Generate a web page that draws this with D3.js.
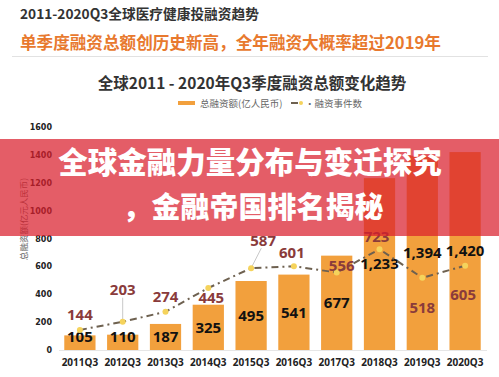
<!DOCTYPE html>
<html><head><meta charset="utf-8">
<script src="https://cdn.jsdelivr.net/npm/d3@7"></script>
<style>
html,body{margin:0;padding:0;background:#fff;}
svg{display:block;}
</style></head>
<body>
<script>
// ---- data ----
const categories = ["2011Q3","2012Q3","2013Q3","2014Q3","2015Q3","2016Q3","2017Q3","2018Q3","2019Q3","2020Q3"];
const amounts = [105,110,187,325,495,541,677,1233,1394,1420];      // 总融资额(亿人民币)
const events  = [144,203,274,445,587,601,556,723,518,605];         // 融资事件数
const yTicks  = [0,200,400,600,800,1000,1200,1400,1600];
const amountLabels = ["105","110","187","325","495","541","677","1,233","1,394","1,420"];
// layout of event labels (offsets from their point)
const evLabelOffset = [[0,-15],[0,-32],[0,-15],[3,10],[12,-28],[-2,-14],[5,-7],[-3,-13],[0,30],[-2,29]];

const W=499,H=377;
const svg=d3.select("body").append("svg").attr("width",W).attr("height",H);
const CJK='"Noto Sans CJK SC","Noto Sans",sans-serif';
const NUM='"Liberation Sans Narrow","Noto Sans",sans-serif';

// header
svg.append("text").attr("x",20).attr("y",19).text("2011-2020Q3全球医疗健康投融资趋势")
  .attr("font-family",CJK).attr("font-weight",700).attr("font-size",13.7).attr("fill","#333");
svg.append("text").attr("x",20).attr("y",49).text("单季度融资总额创历史新高，全年融资大概率超过2019年")
  .attr("font-family",CJK).attr("font-weight",700).attr("font-size",16.6).attr("fill","#e8792e");
svg.append("line").attr("x1",12).attr("x2",488).attr("y1",56.5).attr("y2",56.5).attr("stroke","#e2e2e2");

svg.append("text").attr("x",252).attr("y",89).attr("text-anchor","middle")
  .text("全球2011 - 2020年Q3季度融资总额变化趋势")
  .attr("font-family",CJK).attr("font-weight",700).attr("font-size",15.5).attr("fill","#333");

// legend
svg.append("rect").attr("x",178).attr("y",101).attr("width",17).attr("height",4).attr("fill","#f2a03d");
svg.append("text").attr("x",200).attr("y",106.5).text("总融资额(亿人民币)")
  .attr("font-family",CJK).attr("font-size",9.5).attr("fill","#666");
svg.append("line").attr("x1",291).attr("x2",298).attr("y1",103).attr("y2",103).attr("stroke","#6e6150").attr("stroke-width",2);
svg.append("circle").attr("cx",301).attr("cy",103).attr("r",2).attr("fill","#f5d35c");
svg.append("text").attr("x",305).attr("y",106.5).text("·融资事件数")
  .attr("font-family",CJK).attr("font-size",9.5).attr("fill","#666");

// scales
const x=d3.scaleBand().domain(categories).range([58.5,486.5]).paddingInner(0.27).paddingOuter(0.135);
const y=d3.scaleLinear().domain([0,1600]).range([350,127]);

// y axis
const ya=svg.append("g").attr("transform","translate(54,0)")
  .call(d3.axisLeft(y).tickValues(yTicks).tickSize(0).tickPadding(2).tickFormat(d3.format("d")));
ya.select(".domain").remove();
ya.selectAll("text").attr("font-family",'"DejaVu Sans",sans-serif').attr("font-weight",700).attr("font-size",8).attr("fill","#222");

svg.append("text").attr("transform","translate(27,219) rotate(-90)").attr("text-anchor","middle")
  .text("总融资额(亿元人民币)").attr("font-family",CJK).attr("font-size",8.5).attr("fill","#666");

// bars
svg.selectAll("rect.bar").data(amounts).enter().append("rect").attr("class","bar")
  .attr("x",(d,i)=>x(categories[i])).attr("width",x.bandwidth())
  .attr("y",d=>y(d)).attr("height",d=>y(0)-y(d)).attr("fill","#f2a03d");

// x axis
const xa=svg.append("g").attr("transform","translate(0,350)").call(d3.axisBottom(x).tickSize(0).tickPadding(9));
xa.select(".domain").attr("stroke","#e6e6e6");
xa.selectAll("text").attr("font-family",'"Noto Sans",sans-serif').attr("font-weight",700).attr("font-size",10).attr("fill","#222");

// bar labels
svg.selectAll("text.bl").data(amounts).enter().append("text").attr("class","bl")
  .attr("x",(d,i)=>x(categories[i])+x.bandwidth()/2)
  .attr("y",d=>Math.min((y(d)+y(0))/2,337))
  .attr("dy","0.36em").attr("text-anchor","middle")
  .text((d,i)=>amountLabels[i])
  .attr("font-family",NUM).attr("font-weight",700).attr("font-size",15).attr("fill","#111");

// line
const cx=i=>x(categories[i])+x.bandwidth()/2;
const line=d3.line().x((d,i)=>cx(i)).y(d=>y(d));
svg.append("path").datum(events).attr("d",line).attr("fill","none")
  .attr("stroke","#6e6150").attr("stroke-width",2).attr("stroke-dasharray","7,4,2,4");

// leader lines
[[1],[4]].forEach(([i])=>{
  const o=evLabelOffset[i];
  svg.append("line").attr("x1",cx(i)).attr("y1",y(events[i]))
    .attr("x2",cx(i)+o[0]*0.85).attr("y2",y(events[i])+o[1]+8)
    .attr("stroke","#c8c8c8").attr("stroke-width",1);
});

svg.selectAll("circle.pt").data(events).enter().append("circle").attr("class","pt")
  .attr("cx",(d,i)=>cx(i)).attr("cy",d=>y(d)).attr("r",3).attr("fill","#f5d35c");

svg.selectAll("text.el").data(events).enter().append("text").attr("class","el")
  .attr("x",(d,i)=>cx(i)+evLabelOffset[i][0]).attr("y",(d,i)=>y(d)+evLabelOffset[i][1])
  .attr("dy","0.36em").attr("text-anchor","middle").text(d=>d)
  .attr("font-family",NUM).attr("font-weight",700).attr("font-size",15).attr("fill","#8a3b3b");

// banner overlay
svg.append("rect").attr("x",0).attr("y",139).attr("width",W).attr("height",97).attr("fill","rgba(218,30,45,0.72)");
svg.append("text").attr("x",250).attr("y",162).attr("dy","0.36em").attr("text-anchor","middle")
  .text("全球金融力量分布与变迁探究").attr("font-family",CJK).attr("font-weight",900).attr("font-size",29.5).attr("fill","#fff");
svg.append("text").attr("x",253).attr("y",208).attr("dy","0.36em").attr("text-anchor","middle")
  .text("，金融帝国排名揭秘").attr("font-family",CJK).attr("font-weight",900).attr("font-size",29).attr("fill","#fff");
</script>
</body></html>
